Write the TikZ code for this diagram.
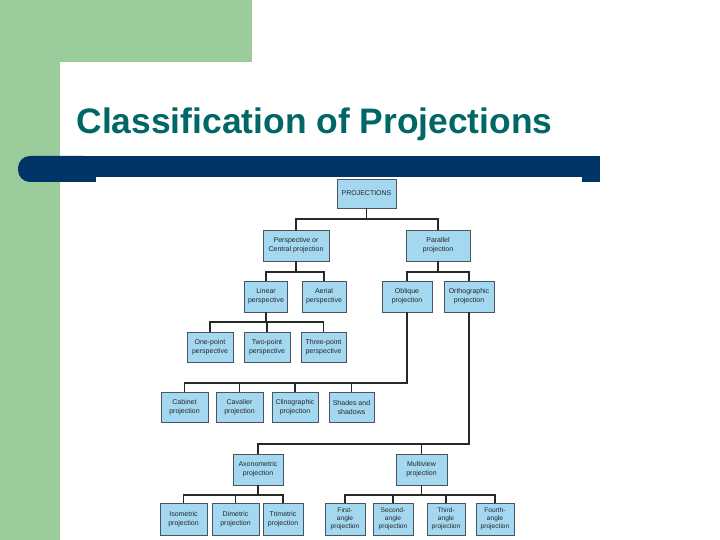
\documentclass[tikz,border=0pt]{standalone}
\usepackage{fontspec}
\setmainfont{Liberation Sans}
\definecolor{slidegreen}{RGB}{155,204,155}
\definecolor{barblue}{RGB}{0,51,102}
\definecolor{titleteal}{RGB}{0,102,102}
\definecolor{boxblue}{RGB}{163,216,240}
\definecolor{boxline}{RGB}{75,85,95}
\definecolor{treeline}{RGB}{40,40,40}

\begin{document}
\begin{tikzpicture}[x=1pt, y=-1pt,
  box/.style={draw=boxline, fill=boxblue, line width=0.7pt, minimum height=31, inner sep=1pt,
    align=center, text=black!85, font=\fontsize{7}{9}\selectfont},
  link/.style={treeline, line width=1.9pt}]
  \useasboundingbox (0,0) rectangle (720,540);
  % slide background
  \fill[white] (0,0) rectangle (720,540);
  \fill[slidegreen] (0,0) rectangle (252,62);
  \fill[slidegreen] (0,0) rectangle (60,540);
  \fill[white] (83,62) rectangle (720,540);
  \fill[white] (60,85) rectangle (720,540);
  \fill[white] (83,85) circle[radius=23];
  \fill[barblue, rounded corners=12] (18,156) rectangle (96,182);
  \fill[barblue] (80,156) rectangle (96,182);
  \fill[barblue] (60,156) rectangle (600,177);
  \fill[barblue] (582,156) rectangle (600,182);
  \node[anchor=base west, text=titleteal, font=\fontsize{35.4}{40}\selectfont\bfseries]
    (title) at (73,134) {Classification of Projections};

  % tree
  \node[box, minimum width=59, minimum height=29] (proj) at (366.5,193.5) {PROJECTIONS};
  \node[box, minimum width=66] (persp) at (296,245.5) {Perspective or\\Central projection};
  \node[box, minimum width=64] (par) at (438,245.5) {Parallel\\projection};
  \node[box, minimum width=43] (lin) at (266,296.5) {Linear\\perspective};
  \node[box, minimum width=44] (aer) at (324,296.5) {Aerial\\perspective};
  \node[box, minimum width=50] (obl) at (407,296.5) {Oblique\\projection};
  \node[box, minimum width=50] (orth) at (469,296.5) {Orthographic\\projection};
  \node[box, minimum width=46, minimum height=30] (one) at (210,347) {One-point\\perspective};
  \node[box, minimum width=46, minimum height=30] (two) at (267,347) {Two-point\\perspective};
  \node[box, minimum width=45, minimum height=30] (three) at (323.5,347) {Three-point\\perspective};
  \node[box, minimum width=47, minimum height=30] (cab) at (184.5,407) {Cabinet\\projection};
  \node[box, minimum width=47, minimum height=30] (cav) at (239.5,407) {Cavalier\\projection};
  \node[box, minimum width=46, minimum height=30] (clino) at (295,407) {Clinographic\\projection};
  \node[box, minimum width=45, minimum height=30] (shade) at (351.5,407) {Shades and\\shadows};
  \node[box, minimum width=50] (axo) at (258,469.5) {Axonometric\\projection};
  \node[box, minimum width=51] (multi) at (421.5,469.5) {Multiview\\projection};
  \node[box, minimum width=47, minimum height=32] (iso) at (183.5,519) {Isometric\\projection};
  \node[box, minimum width=47, minimum height=32] (dim) at (235.5,519) {Dimetric\\projection};
  \node[box, minimum width=40, minimum height=32] (tri) at (283,519) {Trimetric\\projection};
  \node[box, minimum width=40, minimum height=32, font=\fontsize{6.6}{8}\selectfont] (first) at (345,519) {First-\\angle\\projection};
  \node[box, minimum width=40, minimum height=32, font=\fontsize{6.6}{8}\selectfont] (second) at (393,519) {Second-\\angle\\projection};
  \node[box, minimum width=38, minimum height=32, font=\fontsize{6.6}{8}\selectfont] (third) at (446,519) {Third-\\angle\\projection};
  \node[box, minimum width=38, minimum height=32, font=\fontsize{6.6}{8}\selectfont] (fourth) at (495,519) {Fourth-\\angle\\projection};

  \draw[link] (proj.south) -- ++(0,11) -| (persp.north) (proj.south) -- ++(0,11) -| (par.north);
  \draw[link] (persp.south) -- ++(0,11) -| (lin.north) (persp.south) -- ++(0,11) -| (aer.north);
  \draw[link] (par.south) -- ++(0,11) -| (obl.north) (par.south) -- ++(0,11) -| (orth.north);
  \draw[link] (lin.south) -- ++(0,10) -| (one.north) (lin.south) -- ++(0,10) -| (two.north)
    (lin.south) -- ++(0,10) -| (three.north);
  \draw[link] (obl.south) -- ++(0,71) -| (cab.north) (obl.south) -- ++(0,71) -| (cav.north)
    (obl.south) -- ++(0,71) -| (clino.north) (obl.south) -- ++(0,71) -| (shade.north);
  \draw[link] (orth.south) -- ++(0,132) -| (axo.north) (orth.south) -- ++(0,132) -| (multi.north);
  \draw[link] (axo.south) -- ++(0,10) -| (iso.north) (axo.south) -- ++(0,10) -| (dim.north)
    (axo.south) -- ++(0,10) -| (tri.north);
  \draw[link] (multi.south) -- ++(0,10) -| (first.north) (multi.south) -- ++(0,10) -| (second.north)
    (multi.south) -- ++(0,10) -| (third.north) (multi.south) -- ++(0,10) -| (fourth.north);
\end{tikzpicture}
\end{document}
